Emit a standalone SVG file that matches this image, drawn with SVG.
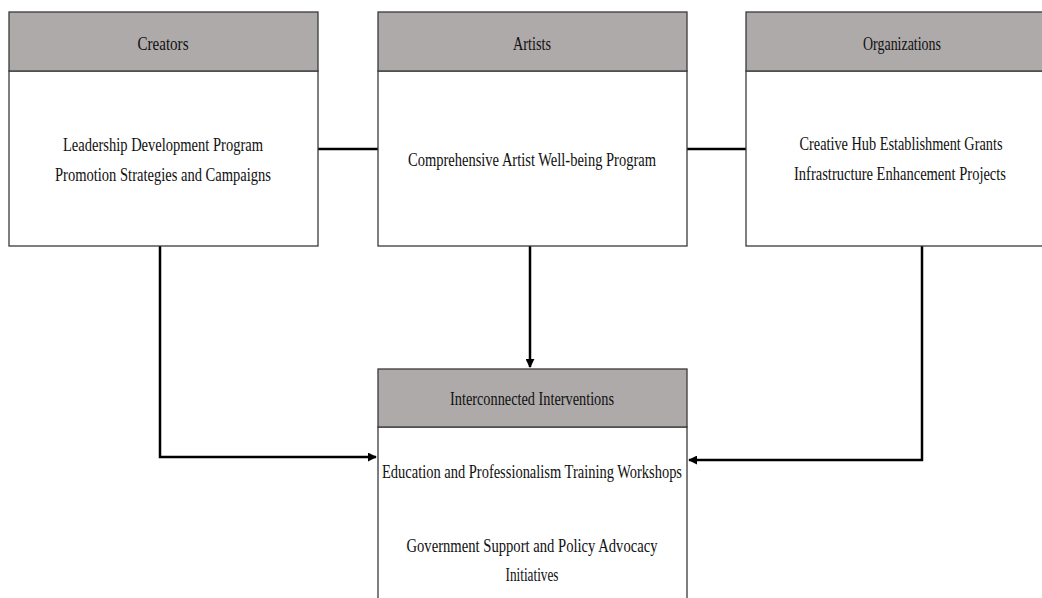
<svg xmlns="http://www.w3.org/2000/svg" width="1042" height="598" viewBox="0 0 1042 598">
<style>
.hdr{fill:#aeaaaa;stroke:#3a3a3a;stroke-width:1.3}
.body{fill:#ffffff;stroke:#3a3a3a;stroke-width:1.3}
text{font-family:"Liberation Serif","Times New Roman",serif;font-size:19px;fill:#111;text-anchor:middle}
.conn{fill:none;stroke:#000;stroke-width:2.5}
</style>
<defs>
<marker id="arr" viewBox="0 0 10 10" refX="9" refY="5" markerWidth="3.6" markerHeight="3.6" orient="auto" markerUnits="strokeWidth">
<path d="M0,0 L10,5 L0,10 Z" fill="#000"/>
</marker>
</defs>
<rect width="1042" height="598" fill="#fff"/>
<g id="connectors">
<line class="conn" x1="318" y1="149" x2="378" y2="149"/>
<line class="conn" x1="687" y1="149" x2="746" y2="149"/>
<polyline class="conn" points="160,246 160,457 376,457" marker-end="url(#arr)"/>
<line class="conn" x1="530" y1="246" x2="530" y2="367" marker-end="url(#arr)"/>
<polyline class="conn" points="922,246 922,460 689,460" marker-end="url(#arr)"/>
</g>
<g id="creators">
<rect class="body" x="9" y="71" width="309" height="175"/>
<rect class="hdr" x="9" y="12" width="309" height="59"/>
<text x="163" y="50" textLength="51" lengthAdjust="spacingAndGlyphs">Creators</text>
<text x="163" y="151" textLength="200" lengthAdjust="spacingAndGlyphs">Leadership Development Program</text>
<text x="163" y="181" textLength="216" lengthAdjust="spacingAndGlyphs">Promotion Strategies and Campaigns</text>
</g>
<g id="artists">
<rect class="body" x="378" y="71" width="309" height="175"/>
<rect class="hdr" x="378" y="12" width="309" height="59"/>
<text x="532" y="50" textLength="38" lengthAdjust="spacingAndGlyphs">Artists</text>
<text x="532" y="166" textLength="248" lengthAdjust="spacingAndGlyphs">Comprehensive Artist Well-being Program</text>
</g>
<g id="organizations">
<rect class="body" x="746" y="71" width="309" height="175"/>
<rect class="hdr" x="746" y="12" width="309" height="59"/>
<text x="902" y="50" textLength="78" lengthAdjust="spacingAndGlyphs">Organizations</text>
<text x="901" y="150" textLength="203" lengthAdjust="spacingAndGlyphs">Creative Hub Establishment Grants</text>
<text x="900" y="180" textLength="212" lengthAdjust="spacingAndGlyphs">Infrastructure Enhancement Projects</text>
</g>
<g id="interventions">
<rect class="body" x="378" y="427" width="309" height="180"/>
<rect class="hdr" x="378" y="369" width="309" height="58"/>
<text x="532" y="405" textLength="164" lengthAdjust="spacingAndGlyphs">Interconnected Interventions</text>
<text x="532" y="478" textLength="300" lengthAdjust="spacingAndGlyphs">Education and Professionalism Training Workshops</text>
<text x="532" y="552" textLength="251" lengthAdjust="spacingAndGlyphs">Government Support and Policy Advocacy</text>
<text x="532" y="581" textLength="53" lengthAdjust="spacingAndGlyphs">Initiatives</text>
</g>
</svg>
